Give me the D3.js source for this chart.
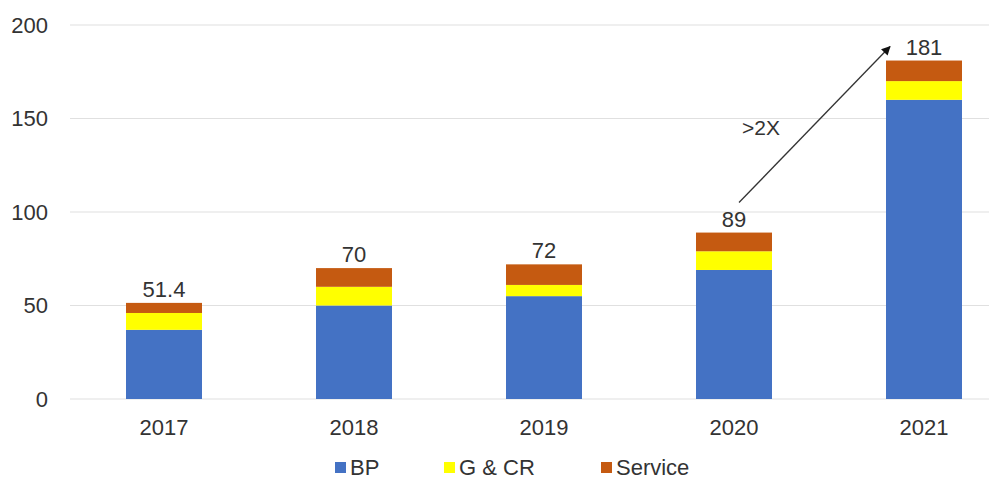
<!DOCTYPE html>
<html>
<head>
<meta charset="utf-8">
<script src="https://cdn.jsdelivr.net/npm/d3@7"></script>
<style>
  html, body { margin: 0; padding: 0; background: #fff; }
  svg { display: block; font-family: "Liberation Sans", Arial, sans-serif; }
</style>
</head>
<body>
<svg id="chart" width="989" height="480"></svg>
<script>
// Yearly revenue split by segment
const years = ["2017", "2018", "2019", "2020", "2021"];
const bp = [37, 50, 55, 69, 160];
const gcr = [9, 10, 6, 10, 10];
const service = [5.4, 10, 11, 10, 11];
const totals = ["51.4", "70", "72", "89", "181"];
const seriesNames = ["BP", "G & CR", "Service"];
const seriesColors = ["#4472C4", "#FFFF00", "#C55A11"];
const yTicks = [0, 50, 100, 150, 200];
const growthLabel = ">2X";

const svg = d3.select("#chart");
const W = 989, H = 480;
const FS = 22;
const textColor = "#333";

const x = d3.scaleBand().domain(years).range([69, 1019]).paddingInner(0.6).paddingOuter(0.3);
const y = d3.scaleLinear().domain([0, 200]).range([399, 25]);

// arrow marker
svg.append("defs").append("marker")
  .attr("id", "arrowhead")
  .attr("viewBox", "0 0 10 10")
  .attr("refX", 9).attr("refY", 5)
  .attr("markerWidth", 7).attr("markerHeight", 7)
  .attr("orient", "auto")
  .append("path").attr("d", "M0,0 L10,5 L0,10 z").attr("fill", "#111");

// gridlines
svg.append("g").selectAll("line").data(yTicks).join("line")
  .attr("x1", 70).attr("x2", W)
  .attr("y1", d => y(d)).attr("y2", d => y(d))
  .attr("stroke", "#e0e0e0").attr("stroke-width", 1.2);

// y axis labels
const yAxis = svg.append("g").attr("transform", "translate(58,0)")
  .call(d3.axisLeft(y).tickValues(yTicks).tickSize(0).tickPadding(10));
yAxis.select(".domain").remove();
yAxis.selectAll("text").attr("font-size", FS).attr("fill", textColor)
  .attr("font-family", "Liberation Sans, Arial, sans-serif");

// stacked bars
const rows = years.map((yr, i) => ({ year: yr, BP: bp[i], "G & CR": gcr[i], Service: service[i] }));
const stacked = d3.stack().keys(seriesNames)(rows);
svg.append("g").selectAll("g").data(stacked).join("g")
  .attr("fill", (d, i) => seriesColors[i])
  .selectAll("rect").data(d => d).join("rect")
  .attr("x", d => x(d.data.year))
  .attr("width", x.bandwidth())
  .attr("y", d => y(d[1]))
  .attr("height", d => y(d[0]) - y(d[1]));

// x axis labels
const xAxis = svg.append("g").attr("transform", `translate(0,${y(0)})`)
  .call(d3.axisBottom(x).tickSize(0).tickPadding(20));
xAxis.select(".domain").remove();
xAxis.selectAll("text").attr("font-size", FS).attr("fill", textColor)
  .attr("font-family", "Liberation Sans, Arial, sans-serif");

// total labels
const tot = i => bp[i] + gcr[i] + service[i];
svg.append("g").selectAll("text").data(years).join("text")
  .attr("x", d => x(d) + x.bandwidth() / 2)
  .attr("y", (d, i) => y(tot(i)) - 6)
  .attr("text-anchor", "middle")
  .attr("font-size", FS).attr("fill", textColor)
  .text((d, i) => totals[i]);

// growth arrow 2020 -> 2021
const ax1 = x("2020") + x.bandwidth() / 2 + 5, ay1 = y(tot(3)) - 30;
const ax2 = x("2021") + 4, ay2 = y(tot(4)) - 14;
svg.append("line")
  .attr("x1", ax1).attr("y1", ay1).attr("x2", ax2).attr("y2", ay2)
  .attr("stroke", "#333").attr("stroke-width", 1.3)
  .attr("marker-end", "url(#arrowhead)");
svg.append("text")
  .attr("x", 761).attr("y", y(150) + 16)
  .attr("text-anchor", "middle").attr("font-size", FS - 1).attr("fill", textColor)
  .text(growthLabel);

// legend
const legendX = [335, 444, 601];
const lg = svg.append("g").selectAll("g").data(seriesNames).join("g")
  .attr("transform", (d, i) => `translate(${legendX[i]},467)`);
lg.append("rect").attr("x", 0).attr("y", -5).attr("width", 11).attr("height", 11)
  .attr("fill", (d, i) => seriesColors[i]);
lg.append("text").attr("x", 15).attr("y", 8).attr("font-size", FS).attr("fill", textColor)
  .text(d => d);
</script>
</body>
</html>
